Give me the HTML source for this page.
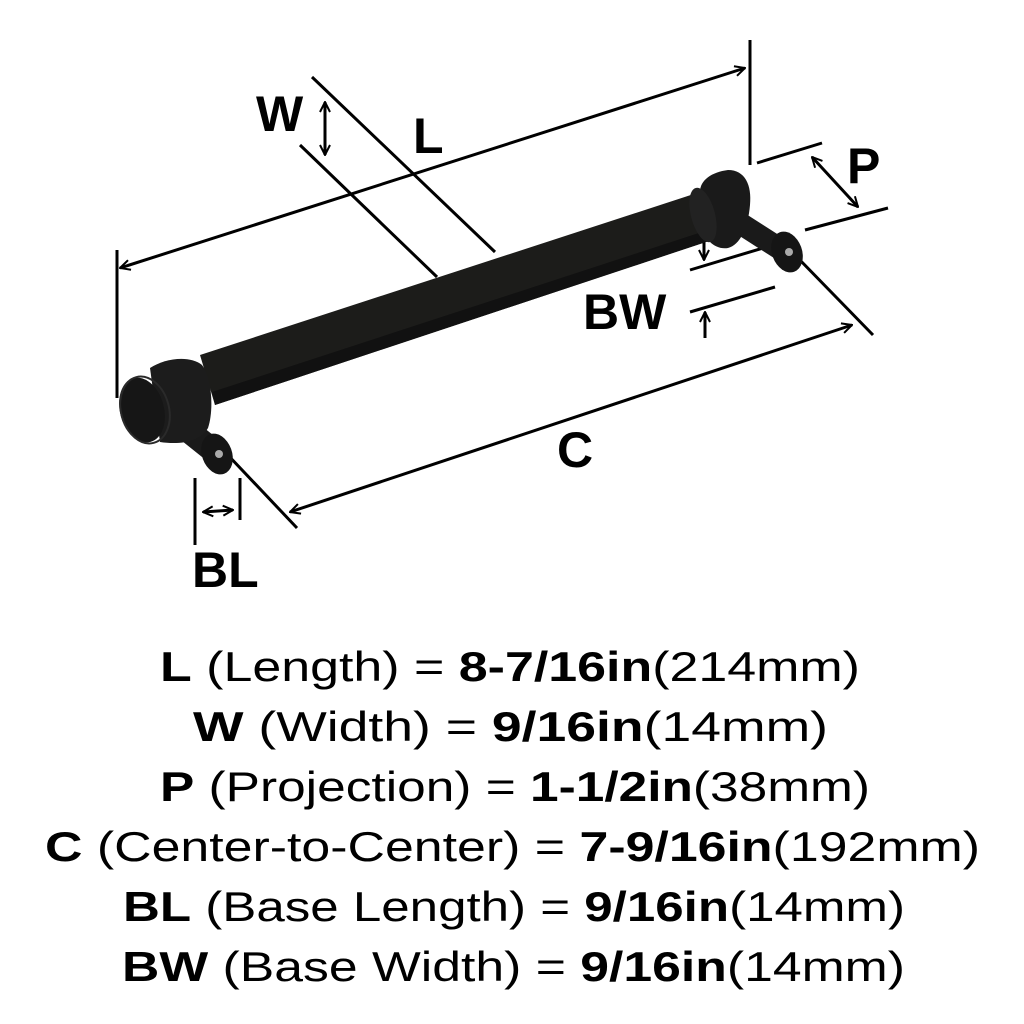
<!DOCTYPE html>
<html><head><meta charset="utf-8"><style>html,body{margin:0;padding:0;background:#fff}svg{display:block}</style></head>
<body>
<svg width="1024" height="1024" viewBox="0 0 1024 1024" xmlns="http://www.w3.org/2000/svg">
<defs>
<marker id="a" viewBox="0 0 12 12" refX="11" refY="6" markerWidth="12" markerHeight="12" markerUnits="userSpaceOnUse" orient="auto-start-reverse"><path d="M1,1 L11,6 L1,11" fill="none" stroke="#000" stroke-width="2"/></marker>
</defs>
<g stroke="#000" stroke-width="3" fill="none">
<line x1="120" y1="268" x2="745" y2="68" marker-start="url(#a)" marker-end="url(#a)"/>
<line x1="117" y1="250" x2="117" y2="398"/>
<line x1="750" y1="40" x2="750" y2="165"/>
<line x1="312" y1="77" x2="495" y2="252"/>
<line x1="300" y1="145" x2="437" y2="277"/>
<line x1="325" y1="102" x2="325" y2="155" marker-start="url(#a)" marker-end="url(#a)"/>
<line x1="757" y1="163" x2="822" y2="143"/>
<line x1="805" y1="230" x2="888" y2="208"/>
<line x1="812" y1="157" x2="858" y2="207" marker-start="url(#a)" marker-end="url(#a)"/>
<line x1="690" y1="270" x2="773" y2="245"/>
<line x1="690" y1="312" x2="775" y2="287"/>
<line x1="704" y1="228" x2="704" y2="260" marker-end="url(#a)"/>
<line x1="705" y1="338" x2="705" y2="312" marker-end="url(#a)"/>
<line x1="290" y1="512" x2="852" y2="325" marker-start="url(#a)" marker-end="url(#a)"/>
<line x1="225" y1="452" x2="297" y2="528"/>
<line x1="795" y1="255" x2="873" y2="335"/>
<line x1="195" y1="478" x2="195" y2="545"/>
<line x1="240" y1="478" x2="240" y2="520"/>
<line x1="203" y1="512" x2="233" y2="510" marker-start="url(#a)" marker-end="url(#a)"/>
</g>
<g>
<!-- posts -->
<line x1="735" y1="220" x2="785" y2="252" stroke="#1a1a1a" stroke-width="22"/>
<ellipse cx="787" cy="252" rx="15" ry="21" fill="#151515" transform="rotate(-20 787 252)"/>
<circle cx="789" cy="252" r="4" fill="#aaa"/>
<line x1="175" y1="420" x2="215" y2="452" stroke="#1a1a1a" stroke-width="24"/>
<ellipse cx="217" cy="454" rx="15" ry="21" fill="#151515" transform="rotate(-20 217 454)"/>
<circle cx="219" cy="454" r="4" fill="#aaa"/>
<!-- bar -->
<polygon points="200,355 700,192 712,240 215,405" fill="#1c1c1a"/>
<polygon points="212,392 708,230 712,240 215,405" fill="#111"/>
<!-- right cap -->
<path d="M700,192 C700,180 712,172 728,170 C745,170 752,185 750,205 C748,228 740,245 728,248 C715,250 705,240 700,225 Z" fill="#1a1a1a"/>
<ellipse cx="703" cy="215" rx="12" ry="28" fill="#222" transform="rotate(-15 703 215)"/>
<!-- left cap -->
<path d="M150,368 C165,358 190,355 202,365 C212,378 214,410 208,428 C200,442 180,445 160,442 Z" fill="#1c1c1c"/>
<ellipse cx="142" cy="410" rx="22" ry="33" fill="#161616" transform="rotate(-15 142 410)"/>
<ellipse cx="145" cy="410" rx="24" ry="34" fill="none" stroke="#2a2a2a" stroke-width="2" transform="rotate(-15 145 410)"/>
</g>
<g font-family="Liberation Sans, Arial, sans-serif" font-size="50" font-weight="bold" fill="#000">
<text x="256" y="131">W</text>
<text x="413" y="153">L</text>
<text x="847" y="183">P</text>
<text x="583" y="329">BW</text>
<text x="557" y="467">C</text>
<text x="192" y="587">BL</text>
</g>
<g font-family="Liberation Sans, Arial, sans-serif" font-size="42" fill="#000">
<text x="160" y="681" textLength="700" lengthAdjust="spacingAndGlyphs"><tspan font-weight="bold">L</tspan> (Length) = <tspan font-weight="bold">8-7/16in</tspan>(214mm)</text>
<text x="193" y="741" textLength="635" lengthAdjust="spacingAndGlyphs"><tspan font-weight="bold">W</tspan> (Width) = <tspan font-weight="bold">9/16in</tspan>(14mm)</text>
<text x="160" y="801" textLength="710" lengthAdjust="spacingAndGlyphs"><tspan font-weight="bold">P</tspan> (Projection) = <tspan font-weight="bold">1-1/2in</tspan>(38mm)</text>
<text x="45" y="861" textLength="935" lengthAdjust="spacingAndGlyphs"><tspan font-weight="bold">C</tspan> (Center-to-Center) = <tspan font-weight="bold">7-9/16in</tspan>(192mm)</text>
<text x="123" y="921" textLength="782" lengthAdjust="spacingAndGlyphs"><tspan font-weight="bold">BL</tspan> (Base Length) = <tspan font-weight="bold">9/16in</tspan>(14mm)</text>
<text x="122" y="981" textLength="783" lengthAdjust="spacingAndGlyphs"><tspan font-weight="bold">BW</tspan> (Base Width) = <tspan font-weight="bold">9/16in</tspan>(14mm)</text>
</g>
</svg>
</body></html>
